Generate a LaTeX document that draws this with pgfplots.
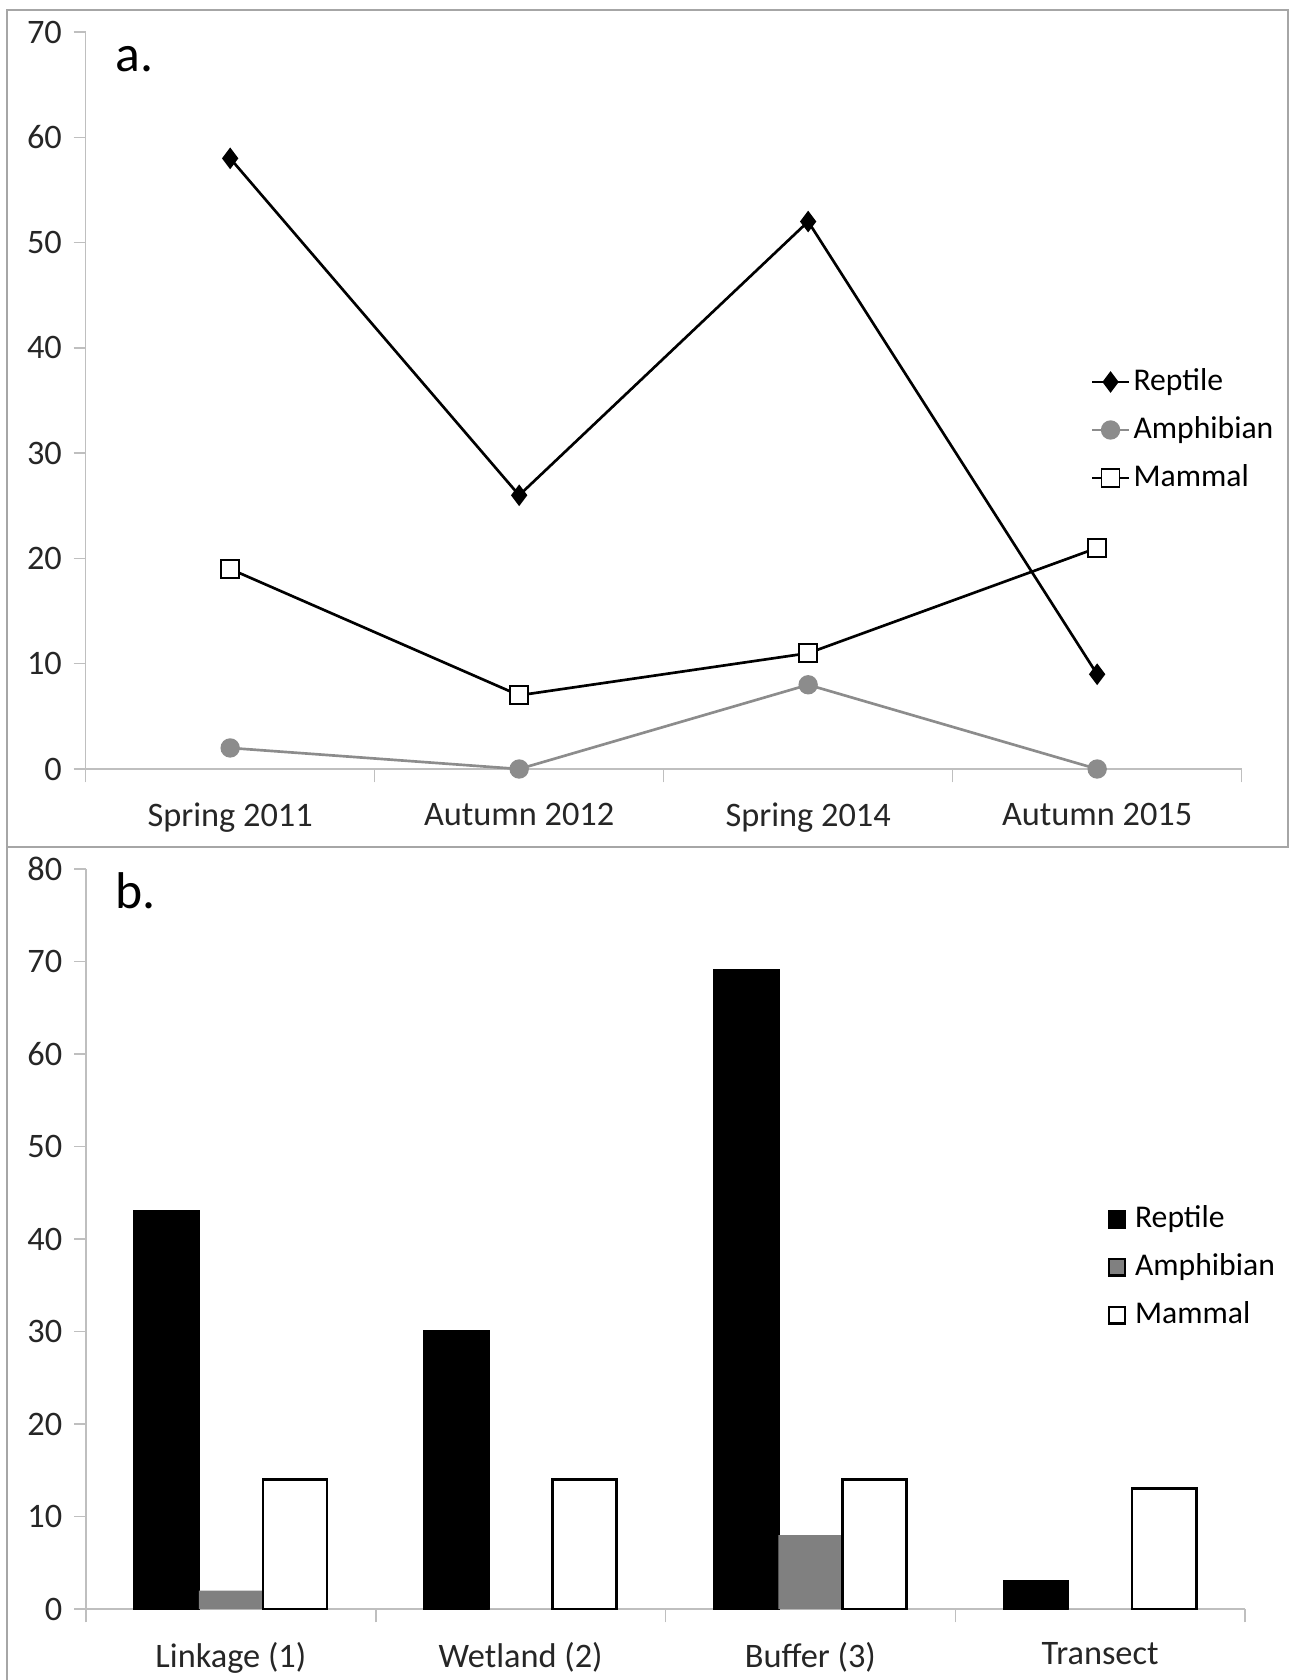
\documentclass[border=0pt]{standalone}
\usepackage{fontspec}
\setmainfont{Carlito}
\usepackage{pgfplots}
\pgfplotsset{compat=1.18}

\definecolor{axgray}{HTML}{BFBFBF}
\definecolor{amph}{HTML}{8C8C8C}
\definecolor{amphbar}{HTML}{808080}
\definecolor{framegray}{HTML}{A6A6A6}

\pgfplotsset{
  panel/.style={
    scale only axis,
    axis x line=bottom, axis y line=left,
    axis line style={axgray, line width=0.45pt, -},
    xmin=-0.5, xmax=3.5,
    xtick={0,1,2,3},
    major x tick style={draw=none},
    minor xtick={-0.5,0.5,1.5,2.5,3.5},
    minor tick length=4pt,
    minor x tick style={axgray, line width=0.45pt},
    tick align=outside,
    major tick length=3.6pt,
    ytick style={axgray, line width=0.45pt},
    ymin=0,
    tick label style={font=\fontsize{10.3}{12}\selectfont, text=black!85},
    xticklabel style={yshift=-3pt},
    /pgf/number format/assume math mode=true,
    legend style={draw=none, fill=none, inner sep=0pt,
      font=\fontsize{9.5}{11}\selectfont,
      nodes={inner sep=1pt, text height=7pt, text depth=2pt},
      row sep=3.4pt, column sep=0pt, cells={anchor=west}},
  }
}

\begin{document}
\begin{tikzpicture}
\path[use as bounding box] (0pt,0pt) rectangle (387pt,-504pt);
\draw[framegray, line width=0.7pt] (2.1pt,-3pt) rectangle (386.4pt,-254.1pt);
\draw[framegray, line width=0.7pt] (2.1pt,-254.1pt) -- (2.1pt,-504pt);

% a. surveys by season
\begin{axis}[panel,
  at={(25.7pt,-230.7pt)}, anchor=south west,
  width=346.8pt, height=221.1pt,
  ymax=70, ytick={0,10,...,70},
  xticklabels={Spring 2011, Autumn 2012, Spring 2014, Autumn 2015},
  legend style={at={(0.869,0.46)}, anchor=west},
  legend image code/.code={\draw[#1, mark repeat=2, mark phase=2]
    plot coordinates {(0pt,0pt) (5.5pt,0pt) (11pt,0pt)};},
]
\addplot[black, line width=0.8pt, mark=diamond*, mark size=2.6pt,
  mark options={solid, fill=black}]
  coordinates {(0,58) (1,26) (2,52) (3,9)};
\addlegendentry{Reptile}
\addplot[amph, line width=0.8pt, mark=*, mark size=2.5pt,
  mark options={solid, fill=amph, draw=amph}]
  coordinates {(0,2) (1,0) (2,8) (3,0)};
\addlegendentry{Amphibian}
\addplot[black, line width=0.8pt, mark=square*, mark size=2.7pt,
  mark options={solid, fill=white, draw=black, line width=0.5pt}]
  coordinates {(0,19) (1,7) (2,11) (3,21)};
\addlegendentry{Mammal}
\end{axis}
\node[anchor=base west, inner sep=0pt, font=\fontsize{15.5}{18}\selectfont] at (34.5pt,-21.3pt) {a.};

% b. captures by site
\begin{axis}[panel,
  at={(25.8pt,-482.7pt)}, anchor=south west,
  width=347.7pt, height=222pt,
  ymax=80, ytick={0,10,...,80},
  ybar,
  xticklabels={Linkage (1), Wetland (2), Buffer (3), Transect},
  legend style={at={(0.881,0.462)}, anchor=west},
  legend image code/.code={\path[draw=none, fill=none] (0pt,0pt) -- (7.2pt,0pt);
    \draw[#1, line width=0.7pt] (0.4pt,-2.5pt) rectangle (5.2pt,2.5pt);},
]
\addplot[fill=black, draw=black, line width=0.8pt, bar width=0.221, bar shift=-0.221]
  coordinates {(0,43) (1,30) (2,69) (3,3)};
\addlegendentry{Reptile}
\addplot[fill=amphbar, draw=none, bar width=0.221, bar shift=0]
  coordinates {(0,2) (1,0) (2,8) (3,0)};
\addlegendentry{Amphibian}
\addplot[fill=white, draw=black, line width=0.8pt, bar width=0.221, bar shift=0.221]
  coordinates {(0,14) (1,14) (2,14) (3,13)};
\addlegendentry{Mammal}
\end{axis}
\node[anchor=base west, inner sep=0pt, font=\fontsize{15.5}{18}\selectfont] at (34.5pt,-272.4pt) {b.};
\end{tikzpicture}
\end{document}
